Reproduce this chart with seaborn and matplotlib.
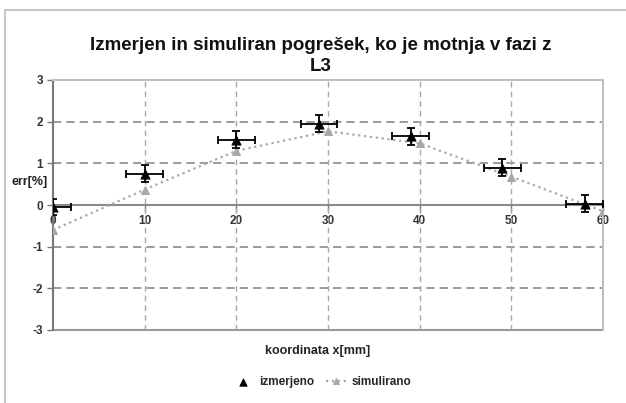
import matplotlib
matplotlib.use("Agg")
import matplotlib.pyplot as plt
import seaborn as sns
import pandas as pd
from matplotlib.patches import Rectangle

x_meas = [0, 10, 20, 29, 39, 49, 58]
y_meas = [-0.05, 0.75, 1.57, 1.95, 1.65, 0.90, 0.03]
x_err = [2, 2, 2, 2, 2, 2, 2]
y_err = [0.2, 0.2, 0.2, 0.2, 0.2, 0.2, 0.2]
x_sim = [0, 10, 20, 30, 40, 50, 60]
y_sim = [-0.60, 0.37, 1.30, 1.77, 1.48, 0.68, -0.15]
x_ticks = [0, 10, 20, 30, 40, 50, 60]
y_ticks = [-3, -2, -1, 0, 1, 2, 3]

sns.set_theme(style="white")
plt.rcParams['font.family'] = ['Liberation Sans', 'DejaVu Sans']
plt.rcParams['axes.unicode_minus'] = False

fig = plt.figure(figsize=(6.26, 4.03), dpi=100)
fig.patch.set_facecolor('white')
fig.patches.append(Rectangle((5/626, -0.1), 1.2, 1 - 10/403 + 0.1, transform=fig.transFigure,
                             fill=False, edgecolor='#c8c8c8', linewidth=1.5, zorder=0))
ax = fig.add_axes([53/626, 1 - 330/403, 550/626, 250/403])

df_sim = pd.DataFrame({'x': x_sim, 'y': y_sim})
df_meas = pd.DataFrame({'x': x_meas, 'y': y_meas})

sns.lineplot(data=df_sim, x='x', y='y', ax=ax, color='#a8a8a8', linestyle=':', linewidth=1.6,
             marker='^', markersize=6, markeredgecolor='#a8a8a8', label='simulirano', zorder=3)
ax.errorbar(x_meas, y_meas, xerr=x_err, yerr=y_err, fmt='none', ecolor='black',
            elinewidth=1.3, capsize=3, capthick=1.3, zorder=4)
sns.scatterplot(data=df_meas, x='x', y='y', ax=ax, marker='^', color='black', s=45,
                edgecolor='black', label='izmerjeno', zorder=5)

ax.set_xlim(0, 60)
ax.set_ylim(-3, 3)
ax.set_xticks(x_ticks)
ax.set_yticks(y_ticks)

for v in [1, 2, -1, -2]:
    ax.axhline(v, color='#8a8a8a', linestyle=(0, (5, 3)), linewidth=1.2, zorder=1)
for v in [10, 20, 30, 40, 50]:
    ax.axvline(v, color='#a8a8a8', linestyle=(0, (4, 3)), linewidth=1.0, zorder=1)
ax.axhline(-3, color='#999999', linewidth=1.5, zorder=2, clip_on=False)

ax.spines['bottom'].set_position(('data', 0))
ax.spines['bottom'].set_color('#8a8a8a')
ax.spines['bottom'].set_linewidth(1.5)
ax.spines['left'].set_color('#777777')
ax.spines['left'].set_linewidth(1.5)
ax.spines['top'].set_color('#c0c0c0')
ax.spines['right'].set_color('#c0c0c0')
ax.spines['top'].set_linewidth(1.5)
ax.spines['right'].set_linewidth(1.5)

ax.tick_params(axis='both', direction='out', length=4, width=1, color='#777777',
               labelsize=8.5, pad=3, bottom=True, left=True)
for lab in ax.get_xticklabels() + ax.get_yticklabels():
    lab.set_fontweight('bold')
    lab.set_color('#333333')

ax.set_xlabel('')
ax.set_ylabel('')
fig.text(30/626, 1 - 182/403, 'err[%]', ha='center', va='center', fontsize=9,
         fontweight='bold', color='#222222')
fig.text(318/626, 1 - 351/403, 'koordinata x[mm]', ha='center', va='center', fontsize=9,
         fontweight='bold', color='#222222')
fig.text(321/626, 1 - 56/403, 'Izmerjen in simuliran pogrešek, ko je motnja v fazi z\nL3',
         ha='center', va='center', fontsize=13.5, fontweight='bold', color='#111111',
         linespacing=1.3)

ax.get_legend().remove()
h, l = ax.get_legend_handles_labels()
order = [l.index('izmerjeno'), l.index('simulirano')]
leg = fig.legend([h[i] for i in order], [l[i] for i in order], loc='center',
                 bbox_to_anchor=(322/626, 1 - 382/403), ncol=2, frameon=False,
                 fontsize=8.5, handlelength=1.8, columnspacing=1.0, handletextpad=0.4,
                 markerscale=0.8)
for t in leg.get_texts():
    t.set_fontweight('bold')

fig.savefig('out.png', dpi=100, facecolor='white')
